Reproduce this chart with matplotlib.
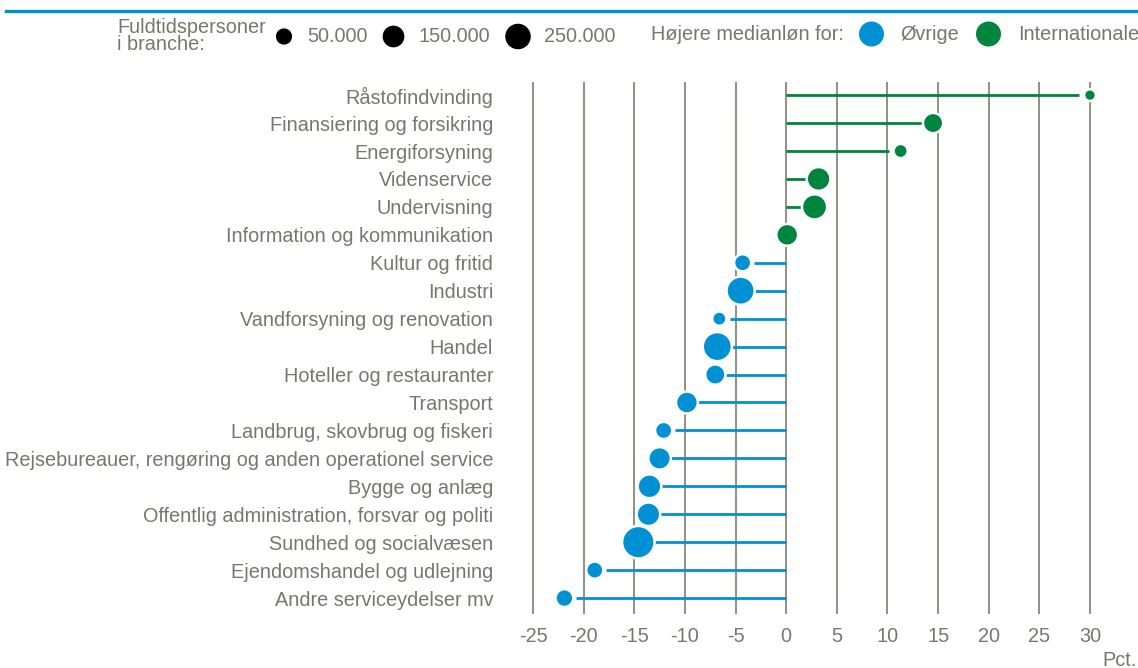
import numpy as np
import matplotlib
matplotlib.use("Agg")
import matplotlib.pyplot as plt
from matplotlib.lines import Line2D

plt.rcParams['font.family'] = ['Liberation Sans', 'DejaVu Sans']
plt.rcParams['axes.unicode_minus'] = False

# data
brancher = [
    "Råstofindvinding",
    "Finansiering og forsikring",
    "Energiforsyning",
    "Videnservice",
    "Undervisning",
    "Information og kommunikation",
    "Kultur og fritid",
    "Industri",
    "Vandforsyning og renovation",
    "Handel",
    "Hoteller og restauranter",
    "Transport",
    "Landbrug, skovbrug og fiskeri",
    "Rejsebureauer, rengøring og anden operationel service",
    "Bygge og anlæg",
    "Offentlig administration, forsvar og politi",
    "Sundhed og socialvæsen",
    "Ejendomshandel og udlejning",
    "Andre serviceydelser mv",
]
loengab = [30.0, 14.5, 11.3, 3.2, 2.8, 0.1, -4.3, -4.5, -6.6, -6.8, -7.0,
           -9.8, -12.1, -12.5, -13.5, -13.6, -14.6, -18.9, -21.9]
fuldtid = [1000, 80000, 11000, 150000, 185000, 110000, 37000, 270000, 11000,
           300000, 80000, 110000, 37000, 123000, 150000, 145000, 420000,
           37000, 45000]
leg_sizes = [50000, 150000, 250000]
leg_labels = ["50.000", "150.000", "250.000"]
xticks = np.arange(-25, 31, 5)

BLUE = "#0091d5"
GREEN = "#00853e"
GREY = "#77776b"
GRID = "#8f8f84"
FS = 14.3
W, H = 1138, 668
EDGE_PX = 2.5


def diam_px(n):
    return 8.2 + 1.064 * np.sqrt(np.asarray(n) / 1000.0)


def marker_s(n, edge=EDGE_PX):
    # diameter in px (plus white edge) -> points^2
    return ((diam_px(n) + edge) * 0.72) ** 2


fig = plt.figure(figsize=(W / 100, H / 100), dpi=100)

x0, x1 = -25.3, 30.3
ppu = (1090 - 533) / 55.0
left = 533 - 0.3 * ppu
ax = fig.add_axes([left / W, 54 / H, (x1 - x0) * ppu / W, 532 / H])
ax.set_xlim(x0, x1)
ax.set_ylim(18.57, -0.47)

vals = np.array(loengab)
y = np.arange(len(brancher))
cols = [GREEN if v > 0 else BLUE for v in vals]

ax.set_xticks(xticks)
ax.set_xticklabels([str(t) for t in xticks])
ax.grid(axis='x', color=GRID, lw=1.4, zorder=0)
ax.set_yticks(y)
ax.set_yticklabels(brancher)
ax.tick_params(axis='y', length=0, pad=26.5, labelsize=FS, labelcolor=GREY)
ax.tick_params(axis='x', length=0, pad=9, labelsize=FS, labelcolor=GREY)
for s in ax.spines.values():
    s.set_visible(False)

# stems stop short of the dots
ends = np.sign(vals) * np.maximum(np.abs(vals) - 1.1, 0)
ax.hlines(y, 0, ends, colors=cols, lw=2.0, zorder=2)
ax.scatter(vals, y, s=marker_s(fuldtid), c=cols, edgecolors='white',
           linewidths=EDGE_PX * 0.72, zorder=3, clip_on=False)

# header / legends in pixel space
lax = fig.add_axes([0, 0, 1, 1], zorder=5)
lax.set_xlim(0, W)
lax.set_ylim(H, 0)
lax.axis('off')
lax.add_line(Line2D([6, W], [11, 11], color=BLUE, lw=2.4))

lax.text(117, 36, "Fuldtidspersoner\ni branche:", fontsize=FS, color=GREY,
         va='center', ha='left', linespacing=0.9)
lax.scatter([284, 393.5, 518], [36.5, 36.5, 36.5],
            s=marker_s(leg_sizes, edge=0.5), c='black', linewidths=0)
for xp, lab in zip([307.5, 418.5, 544.5], leg_labels):
    lax.text(xp, 37, lab, fontsize=FS, color=GREY, va='center', ha='left')

lax.text(651.5, 34, "Højere medianløn for:", fontsize=FS, color=GREY,
         va='center', ha='left')
lax.scatter([871.5, 988.5], [34, 34], s=(25 * 0.72) ** 2, c=[BLUE, GREEN],
            linewidths=0)
lax.text(900.5, 34, "Øvrige", fontsize=FS, color=GREY, va='center', ha='left')
lax.text(1018, 34, "Internationale", fontsize=FS, color=GREY, va='center',
         ha='left')

lax.text(1137, 660, "Pct.", fontsize=FS, color=GREY, va='center', ha='right')

fig.savefig("out.png", dpi=100)
